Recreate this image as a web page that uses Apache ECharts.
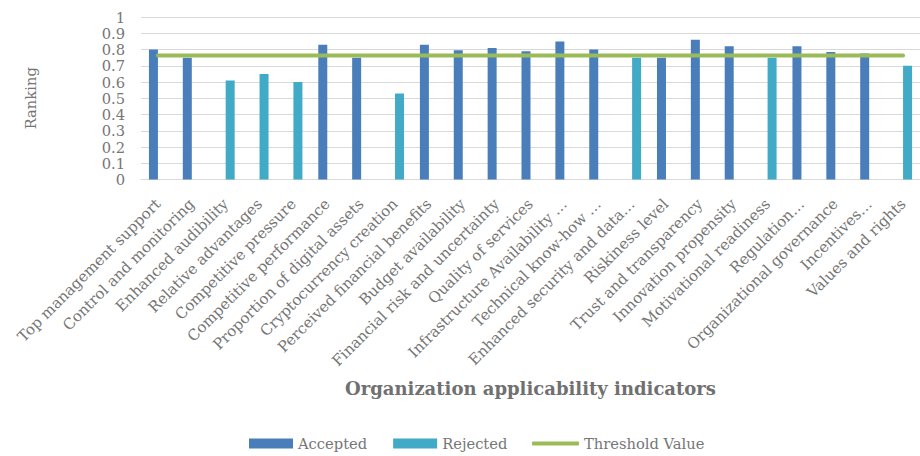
<!DOCTYPE html>
<html>
<head>
<meta charset="utf-8">
<script src="https://cdn.jsdelivr.net/npm/echarts@6/dist/echarts.min.js"></script>
<style>
  html, body { margin: 0; padding: 0; background: #fff; }
  #chart { width: 920px; height: 456px; }
</style>
</head>
<body>
<div id="chart"></div>
<script>
// categories along the x axis
var categories = [
  'Top management support', 'Control and monitoring', 'Enhanced audibility',
  'Relative advantages', 'Competitive pressure', 'Competitive performance',
  'Proportion of digital assets', 'Cryptocurrency creation', 'Perceived financial benefits',
  'Budget availability', 'Financial risk and uncertainty', 'Quality of services',
  'Infrastructure Availability …', 'Technical know-how …', 'Enhanced security and data…',
  'Riskiness level', 'Trust and transparency', 'Innovation propensity',
  'Motivational readiness', 'Regulation…', 'Organizational governance',
  'Incentives…', 'Values and rights'
]
// (null = no bar)
var accepted = [0.80, 0.75, null, null, null, 0.83, 0.75, null, 0.83, 0.795, 0.81, 0.79,
  0.85, 0.80, null, 0.75, 0.86, 0.82, null, 0.82, 0.785, 0.775, null]
var rejected = [null, null, 0.61, 0.65, 0.60, null, null, 0.53, null, null, null, null,
  null, null, 0.75, null, null, null, 0.75, null, null, null, 0.70]
var threshold = [0.763, 0.763, 0.763, 0.763, 0.763, 0.763, 0.763, 0.763, 0.763, 0.763, 0.763, 0.763,
  0.763, 0.763, 0.763, 0.763, 0.763, 0.763, 0.763, 0.763, 0.763, 0.763, 0.763]
var yTicks = ['0', '0.1', '0.2', '0.3', '0.4', '0.5', '0.6', '0.7', '0.8', '0.9', '1']

var font = 'DejaVu Serif'
var textColor = '#767676'

var myChart = echarts.init(document.getElementById('chart'), null, { renderer: 'svg' })
var legendText = { fontFamily: font, fontSize: 14.7, color: textColor }
var option = {
  animation: false,
  grid: { left: 141, top: 17, width: 790, height: 162.5 },
  legend: [
    {
      left: 249,
      top: 436,
      padding: 0,
      itemWidth: 44,
      itemHeight: 10,
      itemGap: 26,
      textStyle: legendText,
      data: [
        { name: 'Accepted', icon: 'rect' },
        { name: 'Rejected', icon: 'rect' }
      ]
    },
    {
      left: 532,
      top: 436,
      padding: 0,
      itemWidth: 47,
      itemHeight: 4,
      textStyle: legendText,
      data: [{ name: 'Threshold Value', icon: 'roundRect' }]
    }
  ],
  xAxis: {
    type: 'category',
    data: categories,
    name: 'Organization applicability indicators',
    nameLocation: 'middle',
    nameGap: 200,
    nameTextStyle: { fontFamily: font, fontSize: 18, fontWeight: 'bold', color: '#707070' },
    axisTick: { show: false },
    axisLine: { lineStyle: { color: '#d9d9d9', width: 1 } },
    axisLabel: {
      interval: 0,
      rotate: 45,
      margin: 22,
      fontFamily: font,
      fontSize: 15,
      color: textColor
    }
  },
  yAxis: {
    type: 'value',
    min: 0,
    max: 1,
    interval: 0.1,
    name: 'Ranking',
    nameLocation: 'middle',
    nameRotate: 90,
    nameGap: 103,
    nameTextStyle: { fontFamily: font, fontSize: 14.7, color: textColor },
    axisLine: { show: false },
    axisTick: { show: false },
    splitLine: { lineStyle: { color: '#d9d9d9', width: 1 } },
    axisLabel: {
      margin: 16,
      fontFamily: font,
      fontSize: 14.7,
      color: textColor,
      formatter: function (v) { return yTicks[Math.round(v * 10)] }
    }
  },
  series: [
    {
      name: 'Accepted',
      type: 'bar',
      data: accepted,
      barWidth: 9,
      barGap: 0,
      itemStyle: { color: '#4a7ebb' }
    },
    {
      name: 'Rejected',
      type: 'bar',
      data: rejected,
      barWidth: 9,
      itemStyle: { color: '#41abc7' }
    },
    {
      name: 'Threshold Value',
      type: 'line',
      data: threshold,
      symbol: 'none',
      lineStyle: { color: '#9bbb59', width: 4, cap: 'round' },
      itemStyle: { color: '#9bbb59' }
    }
  ]
}
myChart.setOption(option)
</script>
</body>
</html>
